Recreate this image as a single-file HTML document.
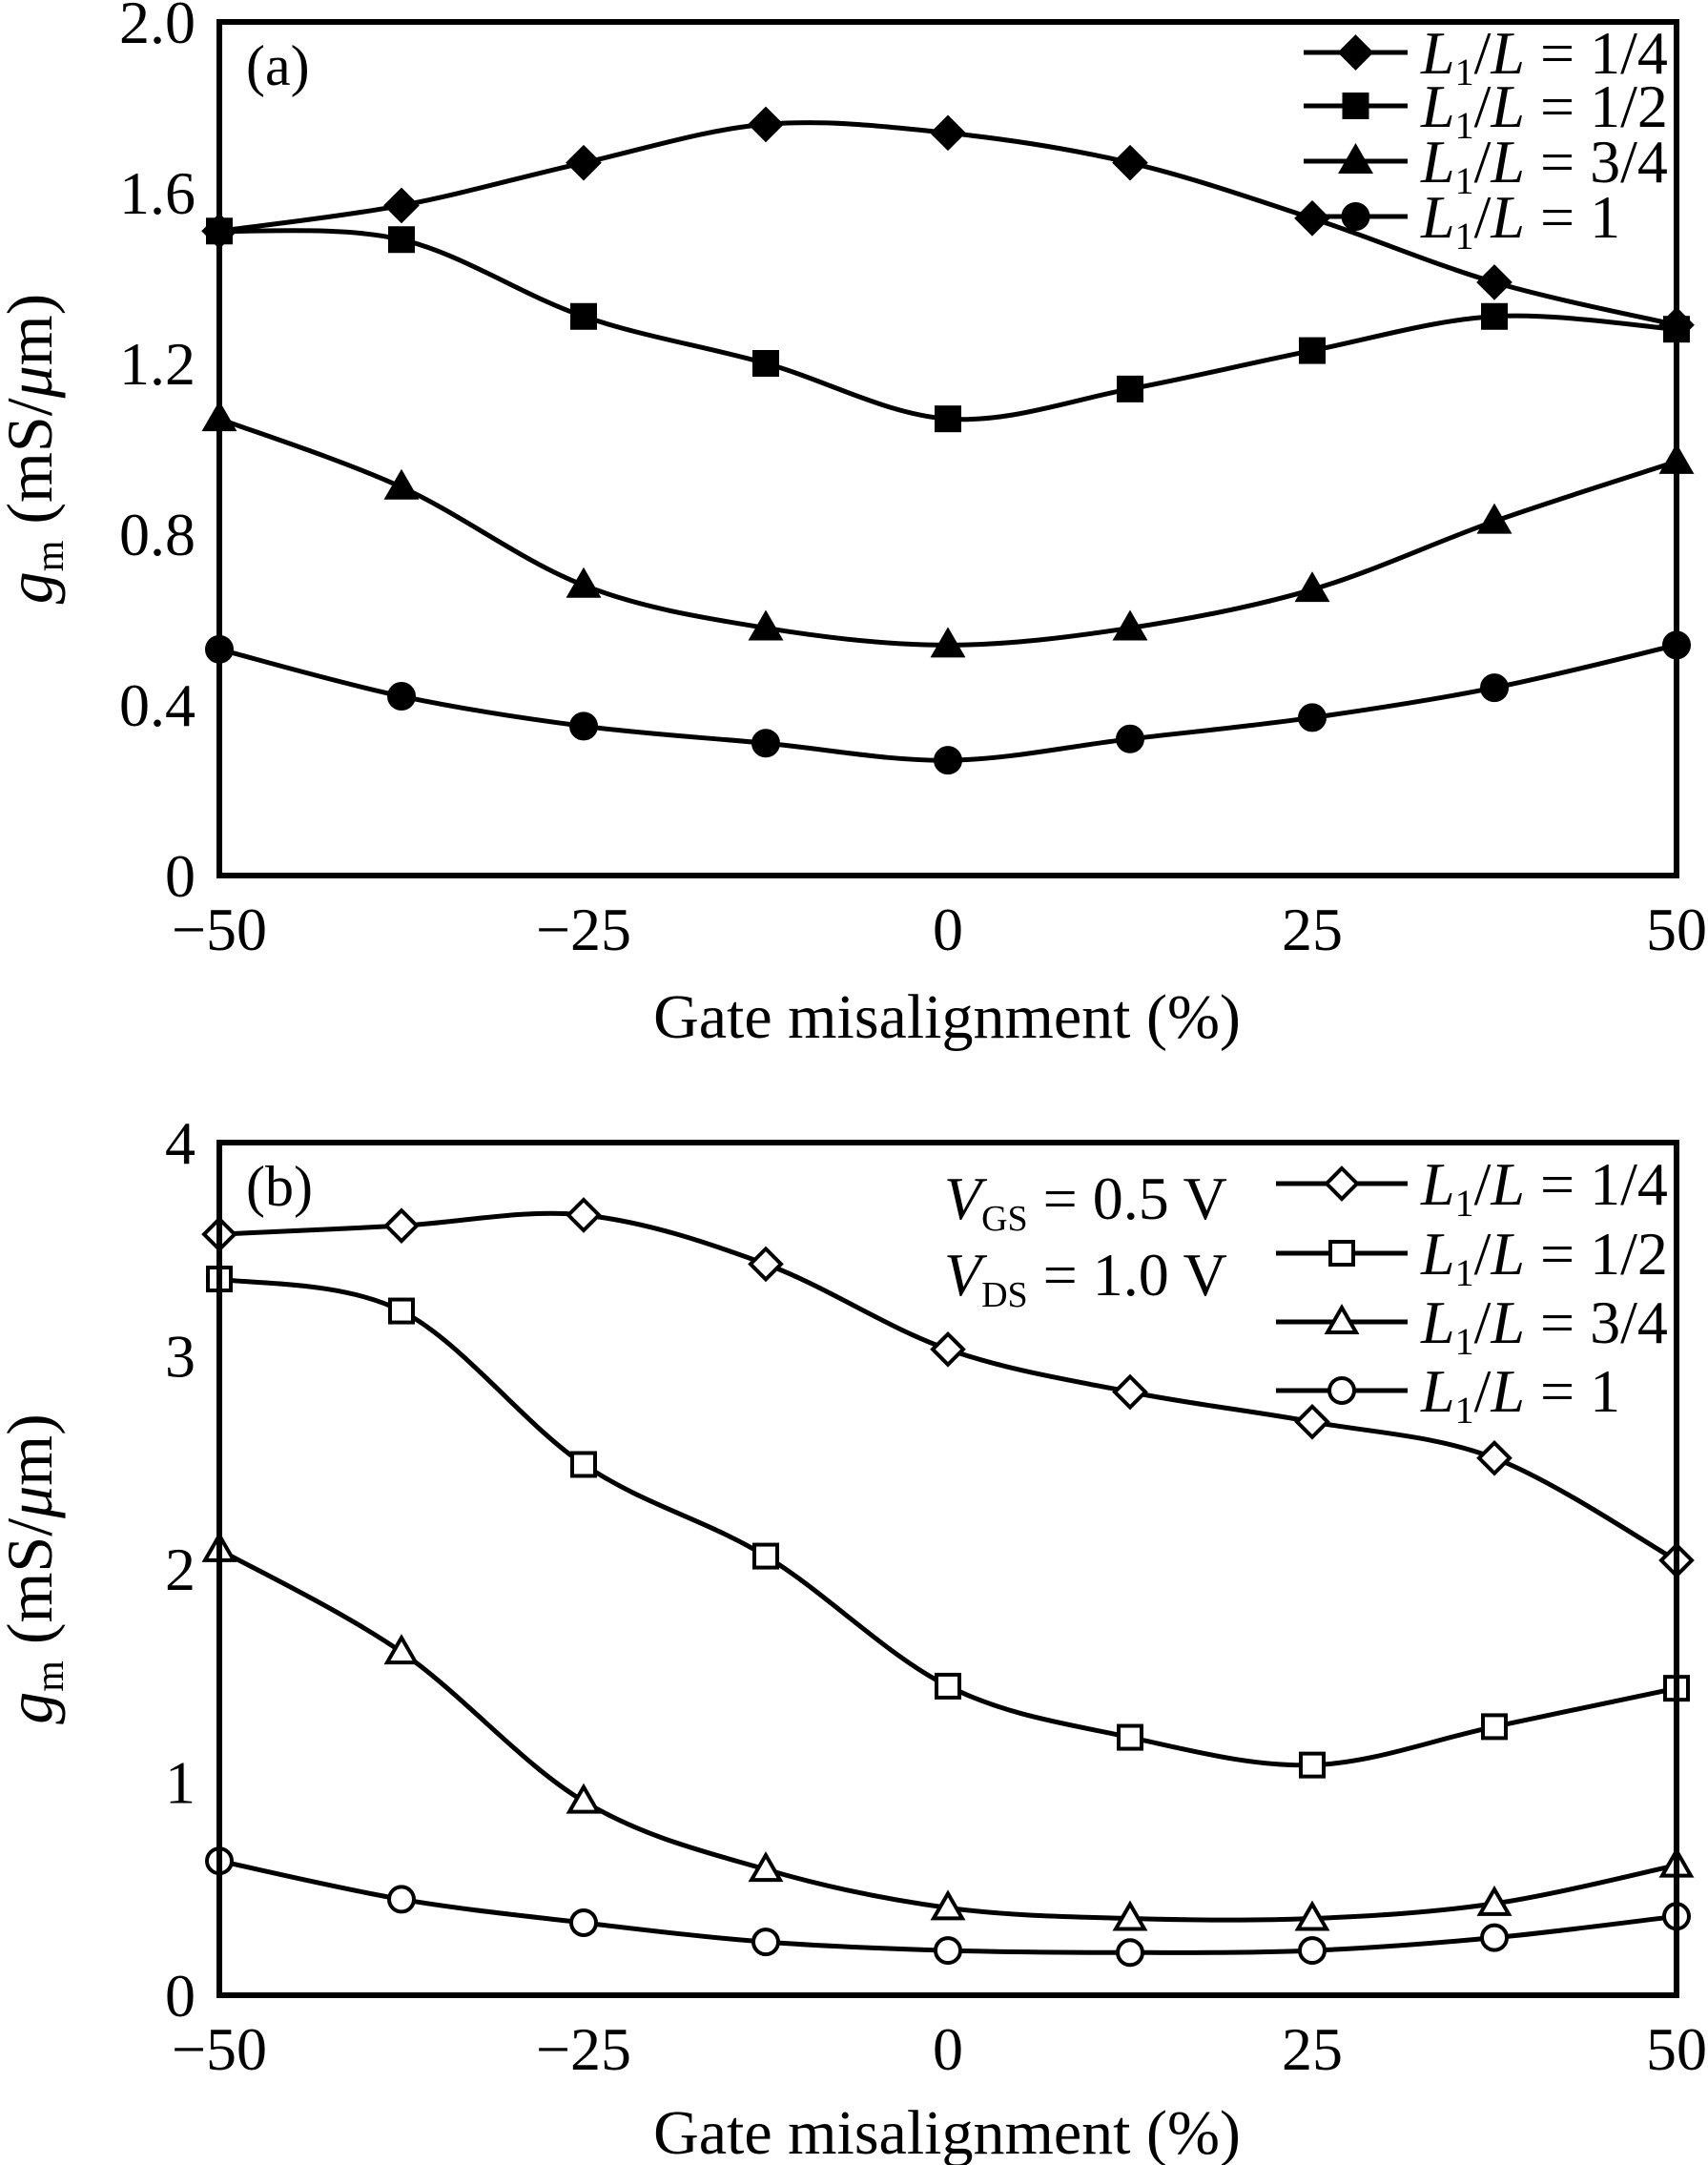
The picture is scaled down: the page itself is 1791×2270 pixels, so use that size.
<!DOCTYPE html>
<html><head><meta charset="utf-8">
<style>
html,body{margin:0;padding:0;background:#fff;}
svg{display:block;font-family:"Liberation Serif",serif;}
</style></head>
<body>
<svg id="chart" width="1791" height="2270" viewBox="0 0 1791 2270">
</svg>
<script>
const xCats = [-50, -37.5, -25, -12.5, 0, 12.5, 25, 37.5, 50];
const xTicks = [-50, -25, 0, 25, 50];
const xTickLabels = ["\u221250", "\u221225", "0", "25", "50"];
const aTicks = [0, 0.4, 0.8, 1.2, 1.6, 2.0];
const aTickLabels = ["0", "0.4", "0.8", "1.2", "1.6", "2.0"];
const bTicks = [0, 1, 2, 3, 4];
const bTickLabels = ["0", "1", "2", "3", "4"];
const aQuarter = [1.51, 1.57, 1.67, 1.76, 1.74, 1.67, 1.54, 1.39, 1.29];
const aHalf = [1.51, 1.49, 1.31, 1.20, 1.07, 1.14, 1.23, 1.31, 1.28];
const aThreeQ = [1.07, 0.91, 0.68, 0.58, 0.54, 0.58, 0.67, 0.83, 0.97];
const aOne = [0.53, 0.42, 0.35, 0.31, 0.27, 0.32, 0.37, 0.44, 0.54];
const bQuarter = [3.57, 3.61, 3.66, 3.43, 3.03, 2.83, 2.69, 2.52, 2.04];
const bHalf = [3.36, 3.21, 2.49, 2.06, 1.45, 1.21, 1.08, 1.26, 1.44];
const bThreeQ = [2.09, 1.61, 0.91, 0.59, 0.41, 0.36, 0.36, 0.43, 0.61];
const bOne = [0.63, 0.45, 0.34, 0.25, 0.21, 0.20, 0.21, 0.27, 0.37];
const legendLabels = ["1/4", "1/2", "3/4", "1"];

const NS = "http://www.w3.org/2000/svg";
const svg = document.getElementById("chart");
function mk(tag, attrs, parent, text) {
  const e = document.createElementNS(NS, tag);
  for (const k in attrs) e.setAttribute(k, attrs[k]);
  if (text !== undefined) e.textContent = text;
  (parent || svg).appendChild(e);
  return e;
}
const X0 = 230, X1 = 1758;
const xs = v => X0 + (v + 50) / 100 * (X1 - X0);

function spline(pts) {
  let d = "M" + pts[0][0] + "," + pts[0][1];
  for (let i = 0; i < pts.length - 1; i++) {
    const p0 = pts[Math.max(0, i - 1)], p1 = pts[i], p2 = pts[i + 1], p3 = pts[Math.min(pts.length - 1, i + 2)];
    const c1x = p1[0] + (p2[0] - p0[0]) / 6, c1y = p1[1] + (p2[1] - p0[1]) / 6;
    const c2x = p2[0] - (p3[0] - p1[0]) / 6, c2y = p2[1] - (p3[1] - p1[1]) / 6;
    d += " C" + c1x + "," + c1y + " " + c2x + "," + c2y + " " + p2[0] + "," + p2[1];
  }
  return d;
}
function marker(g, type, x, y, filled) {
  const fill = filled ? "#000" : "#fff";
  const s = 16;
  let m;
  if (type === 0) m = mk("polygon", {points: `${x},${y-s} ${x+s},${y} ${x},${y+s} ${x-s},${y}`, fill, stroke: "#000", "stroke-width": 4}, g);
  else if (type === 1) m = mk("rect", {x: x-12, y: y-12, width: 24, height: 24, fill, stroke: "#000", "stroke-width": 4}, g);
  else if (type === 2) m = mk("polygon", {points: `${x},${y-15} ${x+15},${y+11} ${x-15},${y+11}`, fill, stroke: "#000", "stroke-width": 4}, g);
  else m = mk("circle", {cx: x, cy: y, r: 13, fill, stroke: "#000", "stroke-width": 4}, g);
  return m;
}

function panel(cfg) {
  const {Y0, Y1, ymax, ticks, tickLabels, series, filled, tag, legendX, legendYs, titleY} = cfg;
  const ys = v => Y0 - v / ymax * (Y0 - Y1);
  const g = mk("g", {});
  
  
  series.forEach((vals, si) => {
    const sg = mk("g", {}, g);
    
    
    const pts = vals.map((v, i) => [xs(xCats[i]), ys(v)]);
    mk("path", {d: spline(pts), fill: "none", stroke: "#000", "stroke-width": 5}, sg);
    pts.forEach(p => {
      const m = marker(sg, si, p[0], p[1], filled);
      
      
    });
  });
  const fr = mk("rect", {x: X0, y: Y1, width: X1 - X0, height: Y0 - Y1, fill: "none", stroke: "#000", "stroke-width": 6}, g);
  
  
  ticks.forEach((t, i) => {
    const e = mk("text", {x: 205, y: ys(t) + 22, "text-anchor": "end", "font-size": 64}, g, tickLabels[i]);
    
    
  });
  xTicks.forEach((t, i) => {
    const e = mk("text", {x: xs(t), y: Y0 + 78, "text-anchor": "middle", "font-size": 64}, g, xTickLabels[i]);
    
    
  });
  const xt = mk("text", {x: 993, y: titleY, "text-anchor": "middle", "font-size": 66}, g, "Gate misalignment (%)");
  
  
  const yc = (Y0 + Y1) / 2;
  const yt = mk("text", {x: 0, y: 0, transform: `translate(54,${yc}) rotate(-90)`, "text-anchor": "middle", "font-size": 68}, g);
  
  
  mk("tspan", {"font-style": "italic"}, yt, "g");
  mk("tspan", {"font-size": 42, dy: 12}, yt, "m");
  mk("tspan", {dy: -12}, yt, " (mS/");
  mk("tspan", {"font-style": "italic"}, yt, "\u03bc");
  mk("tspan", {}, yt, "m)");
  const pl = mk("text", {x: 258, y: Y1 + 66, "font-size": 60}, g, "(" + tag + ")");
  
  
  const lg = mk("g", {}, g);
  
  
  legendYs.forEach((ly, i) => {
    const eg = mk("g", {}, lg);
    
    
    mk("line", {x1: legendX[0], y1: ly, x2: 1476, y2: ly, stroke: "#000", "stroke-width": 5}, eg);
    marker(eg, i, (legendX[0] + 1476) / 2, ly, filled);
    const t = mk("text", {x: 1490, y: ly + 22, "font-size": 64}, eg);
    mk("tspan", {"font-style": "italic"}, t, "L");
    mk("tspan", {"font-size": 40, dy: 12}, t, "1");
    mk("tspan", {dy: -12}, t, "/");
    mk("tspan", {"font-style": "italic"}, t, "L");
    mk("tspan", {}, t, " = " + legendLabels[i]);
  });
  return ys;
}

panel({Y0: 918, Y1: 23, ymax: 2.0, ticks: aTicks, tickLabels: aTickLabels,
  series: [aQuarter, aHalf, aThreeQ, aOne], filled: true, tag: "a",
  legendX: [1367], legendYs: [55, 111, 169, 227], titleY: 1088});
panel({Y0: 2092, Y1: 1198, ymax: 4, ticks: bTicks, tickLabels: bTickLabels,
  series: [bQuarter, bHalf, bThreeQ, bOne], filled: false, tag: "b",
  legendX: [1338], legendYs: [1241, 1314, 1386, 1458], titleY: 2258});

function vlabel(y, sub, val) {
  const t = mk("text", {x: 990, y: y, "font-size": 64});
  
  
  mk("tspan", {"font-style": "italic"}, t, "V");
  mk("tspan", {"font-size": 38, dy: 12}, t, sub);
  mk("tspan", {dy: -12}, t, " = " + val);
}
vlabel(1278, "GS", "0.5 V");
vlabel(1358, "DS", "1.0 V");
</script>
</body></html>
